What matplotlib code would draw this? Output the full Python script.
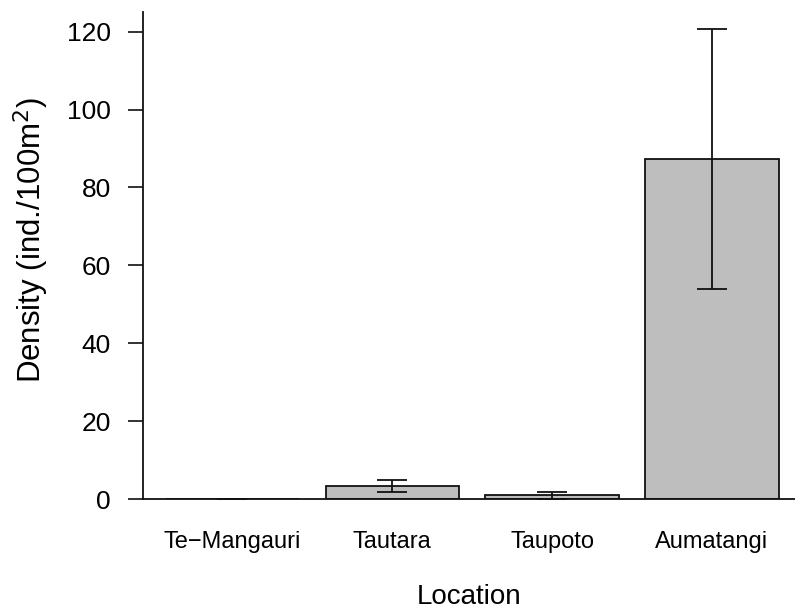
import numpy as np
import matplotlib
matplotlib.use("Agg")
import matplotlib.pyplot as plt

plt.rcParams['font.family'] = ['Liberation Sans', 'DejaVu Sans']

locations = ["Te\u2212Mangauri", "Tautara", "Taupoto", "Aumatangi"]
density = [0.0, 3.4, 1.0, 87.3]
err = [0.0, 1.6, 0.9, 33.3]
yticks = [0, 20, 40, 60, 80, 100, 120]

# R barplot style positions: width 1, space 0.2
x = 0.7 + 1.2 * np.arange(len(locations))

fig = plt.figure(figsize=(7.95, 6.11), dpi=100)
ax = fig.add_axes([143/795, 111.7/611, 652/795, 487.6/611])

ax.bar(x, density, width=1.0, color='#bebebe', edgecolor='#111111', linewidth=1.3)
ax.errorbar(x, density, yerr=err, fmt='none', ecolor='#111111', elinewidth=1.3,
            capsize=10.8, capthick=1.3)

ax.set_xlim(0.03, 4.923)
ax.set_ylim(0, 125.1)
ax.set_xticks(x)
ax.set_xticklabels(locations, fontsize=17)
ax.set_yticks(yticks)
ax.set_yticklabels([str(v) for v in yticks], fontsize=19)

ax.tick_params(axis='x', length=0, pad=23)
ax.tick_params(axis='y', length=10.8, width=1.2, pad=12.5, color='#111111')

for s in ['top', 'right']:
    ax.spines[s].set_visible(False)
for s in ['left', 'bottom']:
    ax.spines[s].set_linewidth(1.3)
    ax.spines[s].set_color('#111111')

ax.set_xlabel("Location", fontsize=20, labelpad=22)
ax.set_ylabel("Density (ind./100m$^2$)", fontsize=22.5)
ax.yaxis.set_label_coords(-0.141, 0.532)

fig.savefig("out.png", dpi=100)
